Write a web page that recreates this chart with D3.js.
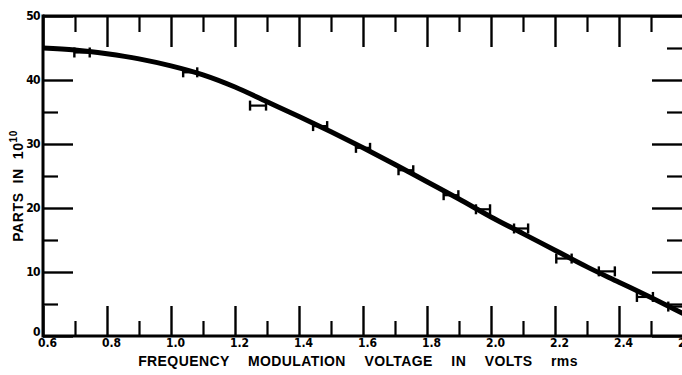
<!DOCTYPE html>
<html>
<head>
<meta charset="utf-8">
<script src="https://cdn.jsdelivr.net/npm/d3@7"></script>
<style>
  html, body { margin: 0; padding: 0; background: #fff; }
  svg { display: block; }
</style>
</head>
<body>
<svg id="chart" width="682" height="375"></svg>
<script>
// ---- data ----
const curveX = [0.6, 0.7, 0.8, 0.9, 1.0, 1.1, 1.2, 1.3, 1.4, 1.5, 1.6, 1.7, 1.8, 1.9, 2.0, 2.1, 2.2, 2.3, 2.4, 2.5, 2.6];
const curveY = [45.0, 44.7, 44.1, 43.3, 42.2, 40.8, 38.9, 36.6, 34.3, 31.9, 29.4, 26.8, 24.1, 21.4, 18.6, 16.0, 13.4, 10.8, 8.4, 6.0, 3.5];
const pointX = [0.722, 1.06, 1.272, 1.466, 1.60, 1.734, 1.875, 1.975, 2.094, 2.228, 2.362, 2.481, 2.578];
const pointY = [44.3, 41.2, 36.0, 32.8, 29.4, 25.9, 22.0, 19.8, 16.8, 12.1, 10.1, 6.1, 4.6];
const pointXErr = [0.024, 0.022, 0.025, 0.022, 0.022, 0.023, 0.023, 0.022, 0.022, 0.024, 0.025, 0.025, 0.024];
const xTickLabels = ["0.6", "0.8", "1.0", "1.2", "1.4", "1.6", "1.8", "2.0", "2.2", "2.4", "2.6"];
const yTickLabels = ["0", "10", "20", "30", "40", "50"];
const xTitle = "FREQUENCY  MODULATION  VOLTAGE  IN  VOLTS  rms";

// ---- layout ----
const svg = d3.select("#chart");
const mL = 43, mR = 683, mT = 16, mB = 336;
const x = d3.scaleLinear().domain([0.6, 2.6]).range([mL, mR]);
const y = d3.scaleLinear().domain([0, 50]).range([mB, mT]);

const majorX = xTickLabels.map(Number);
const minorX = d3.range(0.7, 2.6, 0.2).map(v => +v.toFixed(1));
const majorY = yTickLabels.map(Number);
const minorY = d3.range(5, 50, 10);

const labelFont = "'Liberation Sans Narrow','DejaVu Sans Condensed',Arial,sans-serif";

function styleAxis(g, width) {
  g.select(".domain").remove();
  g.selectAll(".tick line").attr("stroke", "#000").attr("stroke-width", width);
}

// bottom axis: major with labels, minor
svg.append("g").attr("transform", `translate(0,${mB})`)
  .call(d3.axisBottom(x).tickValues(majorX).tickSizeInner(-30).tickSizeOuter(0).tickPadding(4)
        .tickFormat((d, i) => xTickLabels[i]))
  .call(g => styleAxis(g, 2.4))
  .call(g => g.selectAll("text").attr("font-family", labelFont).attr("font-weight", "bold")
        .attr("font-size", 12).attr("fill", "#000").attr("dx", 4).attr("dy", "0.55em"));
svg.append("g").attr("transform", `translate(0,${mB})`)
  .call(d3.axisBottom(x).tickValues(minorX).tickSizeInner(-15).tickSizeOuter(0).tickFormat(""))
  .call(g => styleAxis(g, 2.2));

// top axis ticks (inward)
svg.append("g").attr("transform", `translate(0,${mT})`)
  .call(d3.axisTop(x).tickValues(majorX).tickSizeInner(-31).tickSizeOuter(0).tickFormat(""))
  .call(g => styleAxis(g, 2.4));
svg.append("g").attr("transform", `translate(0,${mT})`)
  .call(d3.axisTop(x).tickValues(minorX).tickSizeInner(-16).tickSizeOuter(0).tickFormat(""))
  .call(g => styleAxis(g, 2.2));

// left axis
svg.append("g").attr("transform", `translate(${mL},0)`)
  .call(d3.axisLeft(y).tickValues(majorY).tickSizeInner(-30).tickSizeOuter(0).tickPadding(3)
        .tickFormat((d, i) => yTickLabels[i]))
  .call(g => styleAxis(g, 2.4))
  .call(g => g.selectAll("text").attr("font-family", labelFont).attr("font-weight", "bold")
        .attr("font-size", 12).attr("fill", "#000").attr("letter-spacing", -0.6)
        .attr("dy", d => d === 0 ? "-0.05em" : "0.32em"));
svg.append("g").attr("transform", `translate(${mL},0)`)
  .call(d3.axisLeft(y).tickValues(minorY).tickSizeInner(-15).tickSizeOuter(0).tickFormat(""))
  .call(g => styleAxis(g, 2.2));

// right axis ticks (inward)
svg.append("g").attr("transform", `translate(${mR},0)`)
  .call(d3.axisRight(y).tickValues(majorY).tickSizeInner(-31).tickSizeOuter(0).tickFormat(""))
  .call(g => styleAxis(g, 2.4));
svg.append("g").attr("transform", `translate(${mR},0)`)
  .call(d3.axisRight(y).tickValues(minorY).tickSizeInner(-16).tickSizeOuter(0).tickFormat(""))
  .call(g => styleAxis(g, 2.2));

// frame lines
svg.append("line").attr("x1", mL).attr("x2", mR).attr("y1", mT).attr("y2", mT)
  .attr("stroke", "#000").attr("stroke-width", 3);
svg.append("line").attr("x1", mL).attr("x2", mR).attr("y1", mB).attr("y2", mB)
  .attr("stroke", "#000").attr("stroke-width", 3);
svg.append("line").attr("x1", mL).attr("x2", mL).attr("y1", mT - 1.5).attr("y2", mB + 1.5)
  .attr("stroke", "#000").attr("stroke-width", 3);

// error bars
const eb = svg.append("g");
pointX.forEach((px, i) => {
  const x0 = x(px - pointXErr[i]), x1 = x(px + pointXErr[i]), yy = y(pointY[i]);
  eb.append("line").attr("x1", x0).attr("x2", x1).attr("y1", yy).attr("y2", yy)
    .attr("stroke", "#000").attr("stroke-width", 2.2);
  [x0, x1].forEach(xx => eb.append("line").attr("x1", xx).attr("x2", xx)
    .attr("y1", yy - 5).attr("y2", yy + 5).attr("stroke", "#000").attr("stroke-width", 2.4));
});

// curve
const line = d3.line().x(d => x(d[0])).y(d => y(d[1])).curve(d3.curveMonotoneX);
svg.append("path").datum(curveX.map((v, i) => [v, curveY[i]]))
  .attr("d", line).attr("fill", "none").attr("stroke", "#000").attr("stroke-width", 5)
  .attr("stroke-linecap", "butt");

// axis titles
svg.append("text").attr("x", 358).attr("y", 366).attr("text-anchor", "middle")
  .attr("font-family", "'Liberation Sans',Arial,sans-serif").attr("font-size", 14)
  .attr("font-weight", "bold").attr("letter-spacing", 0.4).attr("word-spacing", 5)
  .attr("fill", "#000").style("white-space", "pre").text(xTitle);

const yl = svg.append("text").attr("transform", "translate(23,186) rotate(-90)")
  .attr("text-anchor", "middle").attr("font-family", "'Liberation Sans',Arial,sans-serif")
  .attr("font-size", 14).attr("font-weight", "bold").attr("letter-spacing", 0.6)
  .attr("fill", "#000").style("white-space", "pre");
yl.append("tspan").text("PARTS  IN  10");
yl.append("tspan").attr("dy", -6).attr("font-size", 10).text("10");
</script>
</body>
</html>
